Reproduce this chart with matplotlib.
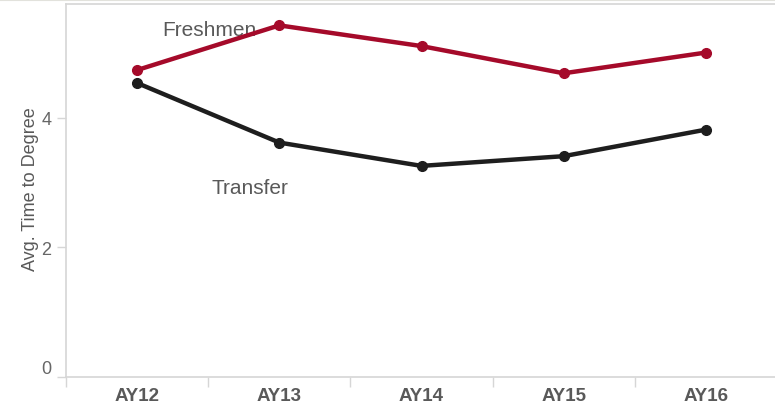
import matplotlib.pyplot as plt
import matplotlib.ticker as ticker
from matplotlib.lines import Line2D

# --- data ---
years = ['AY12', 'AY13', 'AY14', 'AY15', 'AY16']
freshmen = [4.74, 5.43, 5.11, 4.69, 5.01]
transfer = [4.54, 3.62, 3.26, 3.41, 3.82]
y_ticks = [0, 2, 4]

red = '#a50a2a'
dark = '#1e1e1e'
grid_c = '#d6d6d6'
text_c = '#595959'

plt.rcParams['font.family'] = ['Liberation Sans', 'DejaVu Sans']

fig = plt.figure(figsize=(7.75, 4.06), dpi=100)
ax = fig.add_axes([66 / 775, 1 - 378 / 406, 711 / 775, 373 / 406])

x = list(range(len(years)))
ax.plot(x, freshmen, color=red, linewidth=3.2, marker='o', markersize=7, solid_capstyle='round', zorder=3)
ax.plot(x, transfer, color=dark, linewidth=3.2, marker='o', markersize=7, solid_capstyle='round', zorder=3)

# series labels
ax.text(0.506, 5.36, 'Freshmen', fontsize=15, color=text_c, ha='center', va='center', zorder=2)
ax.text(0.794, 2.93, 'Transfer', fontsize=15, color=text_c, ha='center', va='center', zorder=2)

ax.set_xlim(-0.5, len(years) - 0.5)
ax.set_ylim(0, 5.76)

# x axis: labels in band centres, ticks on band edges
ax.set_xticks(x)
ax.set_xticklabels(years, fontsize=13.5, fontweight='bold', color=text_c)
ax.set_xticks([i - 0.5 for i in range(len(years))], minor=True)
ax.tick_params(axis='x', which='major', length=0, pad=7)
ax.tick_params(axis='x', which='minor', length=7, width=1, color=grid_c)

# y axis
ax.set_yticks(y_ticks)
ax.yaxis.set_major_formatter(ticker.FormatStrFormatter('%d'))
ax.tick_params(axis='y', length=6.5, width=1, color=grid_c, labelsize=13, labelcolor='#666666', pad=4)
ax.get_yticklabels()[0].set_verticalalignment('bottom')
ax.set_ylabel('Avg. Time to Degree', fontsize=13, color=text_c)
ax.yaxis.set_label_coords(-27 / 711, 0.507)

for side in ['left', 'bottom', 'top']:
    ax.spines[side].set_color(grid_c)
    ax.spines[side].set_linewidth(1.2)
ax.spines['right'].set_visible(False)

# page border at top
fig.add_artist(Line2D([0, 1], [1 - 0.5 / 406, 1 - 0.5 / 406], color='#e2e2dc', linewidth=1.5))

fig.savefig('out.png', dpi=100)
